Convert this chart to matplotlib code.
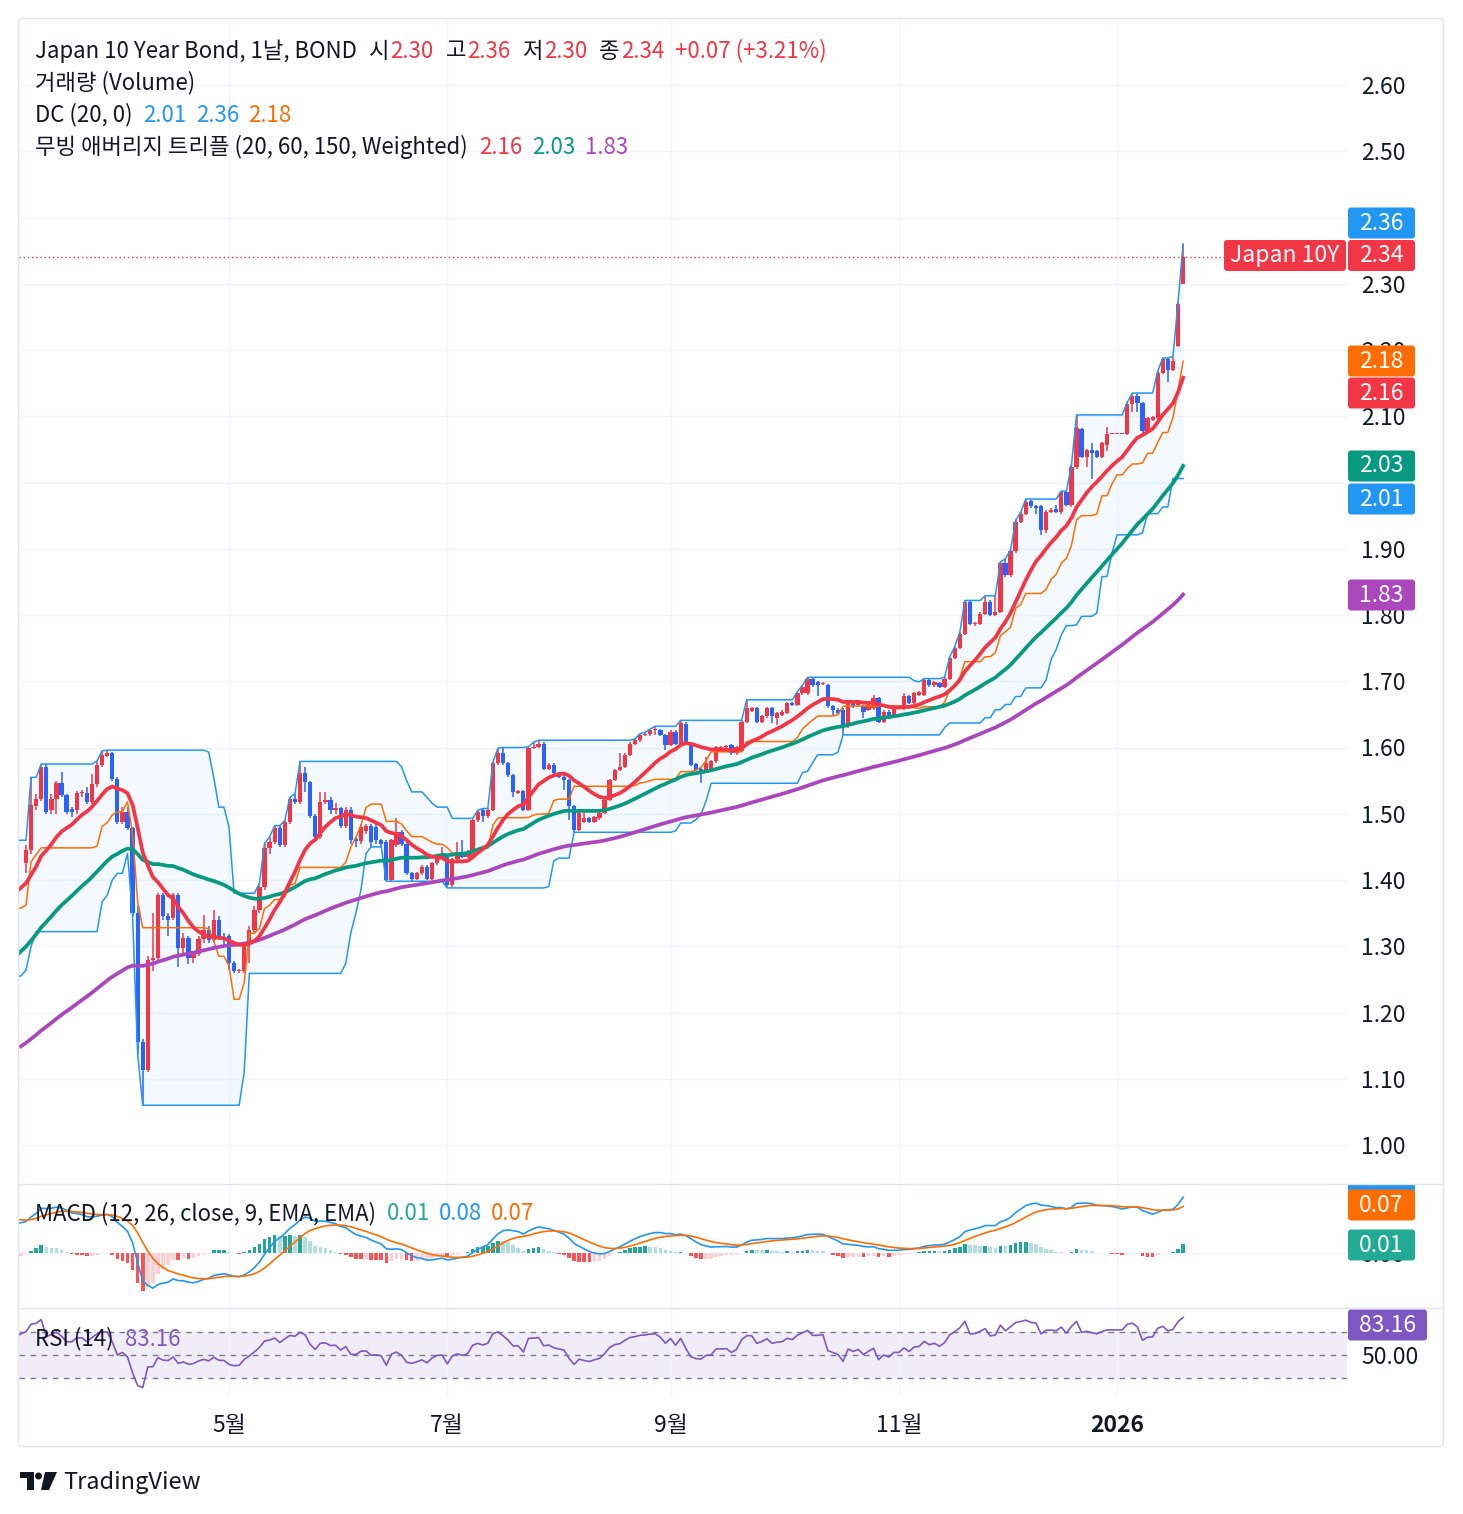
import numpy as np
import pandas as pd
import matplotlib
matplotlib.use("Agg")
from matplotlib import pyplot as plt, patches

plt.rcParams['font.family'] = ['Noto Sans CJK KR', 'DejaVu Sans']

# 일봉 2025-03-06 ~ 2026-01-20 (Japan 10Y 수익률, %)
open_ = [
    1.425, 1.445, 1.511, 1.523, 1.571, 1.505, 1.523, 1.546, 1.528, 1.507,
    1.505, 1.531, 1.532, 1.517, 1.545, 1.573, 1.587, 1.591, 1.553, 1.488,
    1.503, 1.478, 1.350, 1.156, 1.113, 1.279, 1.282, 1.377, 1.346, 1.342,
    1.377, 1.297, 1.312, 1.282, 1.289, 1.311, 1.325, 1.310, 1.340, 1.312,
    1.315, 1.274, 1.262, 1.262, 1.302, 1.325, 1.355, 1.390, 1.448, 1.458,
    1.478, 1.453, 1.488, 1.522, 1.518, 1.561, 1.548, 1.496, 1.465, 1.518,
    1.521, 1.506, 1.508, 1.481, 1.506, 1.462, 1.459, 1.474, 1.481, 1.480,
    1.460, 1.458, 1.400, 1.453, 1.473, 1.455, 1.410, 1.402, 1.410, 1.420,
    1.402, 1.425, 1.436, 1.435, 1.392, 1.431, 1.443, 1.435, 1.435, 1.490,
    1.506, 1.496, 1.506, 1.576, 1.591, 1.576, 1.558, 1.532, 1.534, 1.506,
    1.599, 1.601, 1.606, 1.568, 1.574, 1.561, 1.556, 1.551, 1.511, 1.476,
    1.488, 1.493, 1.488, 1.493, 1.501, 1.521, 1.551, 1.566, 1.571, 1.589,
    1.606, 1.611, 1.619, 1.620, 1.626, 1.626, 1.619, 1.604, 1.624, 1.606,
    1.636, 1.606, 1.575, 1.567, 1.564, 1.566, 1.579, 1.600, 1.601, 1.604,
    1.591, 1.595, 1.639, 1.655, 1.659, 1.639, 1.647, 1.659, 1.644, 1.649,
    1.652, 1.667, 1.664, 1.682, 1.682, 1.704, 1.699, 1.696, 1.694, 1.662,
    1.657, 1.657, 1.632, 1.669, 1.664, 1.662, 1.657, 1.659, 1.674, 1.639,
    1.654, 1.647, 1.660, 1.659, 1.677, 1.667, 1.679, 1.679, 1.702, 1.694,
    1.697, 1.692, 1.704, 1.735, 1.750, 1.772, 1.820, 1.786, 1.787, 1.802,
    1.820, 1.800, 1.805, 1.878, 1.860, 1.896, 1.941, 1.953, 1.972, 1.964,
    1.964, 1.928, 1.956, 1.960, 1.956, 1.985, 1.966, 2.024, 2.080, 2.039,
    2.049, 2.047, 2.039, 2.057, 2.073, 2.073, 2.073, 2.073, 2.119, 2.131,
    2.120, 2.077, 2.095, 2.097, 2.166, 2.186, 2.170, 2.206, 2.300,
]
high = [
    1.453, 1.555, 1.530, 1.575, 1.575, 1.530, 1.550, 1.563, 1.530, 1.510,
    1.535, 1.536, 1.540, 1.560, 1.580, 1.595, 1.596, 1.593, 1.555, 1.510,
    1.510, 1.480, 1.360, 1.160, 1.285, 1.350, 1.380, 1.380, 1.350, 1.380,
    1.380, 1.320, 1.315, 1.290, 1.315, 1.347, 1.330, 1.355, 1.345, 1.320,
    1.318, 1.278, 1.265, 1.305, 1.330, 1.360, 1.395, 1.455, 1.465, 1.482,
    1.482, 1.490, 1.525, 1.530, 1.579, 1.571, 1.550, 1.500, 1.533, 1.533,
    1.525, 1.516, 1.510, 1.510, 1.510, 1.465, 1.485, 1.485, 1.485, 1.485,
    1.462, 1.460, 1.462, 1.493, 1.476, 1.457, 1.412, 1.412, 1.422, 1.422,
    1.427, 1.440, 1.450, 1.437, 1.433, 1.458, 1.460, 1.446, 1.492, 1.505,
    1.508, 1.508, 1.578, 1.599, 1.600, 1.578, 1.560, 1.536, 1.536, 1.601,
    1.608, 1.611, 1.608, 1.576, 1.576, 1.563, 1.558, 1.553, 1.513, 1.503,
    1.503, 1.495, 1.497, 1.503, 1.523, 1.553, 1.568, 1.592, 1.591, 1.608,
    1.613, 1.621, 1.623, 1.628, 1.632, 1.628, 1.621, 1.626, 1.626, 1.641,
    1.638, 1.608, 1.577, 1.569, 1.586, 1.581, 1.603, 1.603, 1.604, 1.606,
    1.603, 1.641, 1.672, 1.661, 1.661, 1.649, 1.661, 1.661, 1.654, 1.656,
    1.669, 1.669, 1.684, 1.694, 1.706, 1.706, 1.701, 1.699, 1.696, 1.664,
    1.659, 1.659, 1.671, 1.671, 1.671, 1.664, 1.666, 1.679, 1.676, 1.656,
    1.656, 1.664, 1.664, 1.682, 1.679, 1.684, 1.686, 1.704, 1.704, 1.701,
    1.699, 1.706, 1.737, 1.752, 1.774, 1.822, 1.822, 1.790, 1.804, 1.829,
    1.822, 1.829, 1.880, 1.885, 1.898, 1.943, 1.955, 1.975, 1.974, 1.966,
    1.966, 1.958, 1.962, 1.966, 1.987, 1.987, 2.026, 2.102, 2.082, 2.051,
    2.059, 2.049, 2.061, 2.084, 2.073, 2.073, 2.073, 2.121, 2.135, 2.133,
    2.122, 2.099, 2.101, 2.168, 2.188, 2.188, 2.190, 2.272, 2.360,
]
low = [
    1.410, 1.440, 1.505, 1.520, 1.500, 1.500, 1.500, 1.525, 1.500, 1.495,
    1.500, 1.526, 1.515, 1.515, 1.540, 1.570, 1.585, 1.550, 1.485, 1.485,
    1.475, 1.345, 1.138, 1.060, 1.110, 1.262, 1.280, 1.340, 1.315, 1.340,
    1.269, 1.290, 1.273, 1.275, 1.285, 1.305, 1.305, 1.305, 1.310, 1.300,
    1.264, 1.259, 1.260, 1.259, 1.274, 1.320, 1.350, 1.385, 1.440, 1.455,
    1.450, 1.450, 1.485, 1.515, 1.515, 1.533, 1.494, 1.458, 1.462, 1.515,
    1.500, 1.500, 1.478, 1.478, 1.455, 1.450, 1.455, 1.470, 1.450, 1.455,
    1.450, 1.398, 1.398, 1.450, 1.452, 1.408, 1.398, 1.400, 1.408, 1.400,
    1.400, 1.423, 1.434, 1.388, 1.390, 1.429, 1.433, 1.433, 1.433, 1.488,
    1.488, 1.494, 1.504, 1.574, 1.574, 1.556, 1.526, 1.530, 1.504, 1.504,
    1.597, 1.599, 1.566, 1.566, 1.559, 1.554, 1.536, 1.490, 1.472, 1.474,
    1.486, 1.486, 1.486, 1.491, 1.499, 1.519, 1.549, 1.564, 1.569, 1.587,
    1.604, 1.609, 1.617, 1.618, 1.619, 1.617, 1.596, 1.602, 1.604, 1.604,
    1.604, 1.572, 1.564, 1.546, 1.562, 1.564, 1.577, 1.598, 1.599, 1.589,
    1.589, 1.593, 1.637, 1.653, 1.637, 1.637, 1.645, 1.637, 1.634, 1.647,
    1.650, 1.662, 1.662, 1.680, 1.680, 1.692, 1.677, 1.694, 1.660, 1.649,
    1.650, 1.619, 1.630, 1.660, 1.662, 1.644, 1.655, 1.657, 1.637, 1.637,
    1.645, 1.645, 1.658, 1.657, 1.665, 1.665, 1.677, 1.677, 1.692, 1.692,
    1.690, 1.690, 1.702, 1.733, 1.748, 1.770, 1.785, 1.784, 1.785, 1.800,
    1.798, 1.798, 1.803, 1.858, 1.858, 1.894, 1.939, 1.951, 1.962, 1.953,
    1.921, 1.924, 1.954, 1.954, 1.953, 1.964, 1.963, 2.021, 2.037, 2.024,
    2.006, 2.037, 2.037, 2.047, 2.073, 2.073, 2.073, 2.071, 2.107, 2.107,
    2.075, 2.075, 2.093, 2.095, 2.164, 2.152, 2.168, 2.204, 2.300,
]
close = [
    1.445, 1.513, 1.523, 1.571, 1.503, 1.523, 1.546, 1.528, 1.502, 1.502,
    1.532, 1.532, 1.517, 1.545, 1.574, 1.589, 1.591, 1.553, 1.488, 1.503,
    1.478, 1.350, 1.156, 1.113, 1.279, 1.282, 1.377, 1.345, 1.340, 1.377,
    1.297, 1.312, 1.282, 1.289, 1.311, 1.325, 1.310, 1.340, 1.312, 1.310,
    1.274, 1.262, 1.264, 1.302, 1.325, 1.355, 1.390, 1.448, 1.458, 1.478,
    1.453, 1.488, 1.522, 1.518, 1.561, 1.548, 1.496, 1.465, 1.518, 1.521,
    1.506, 1.508, 1.481, 1.506, 1.460, 1.459, 1.480, 1.481, 1.458, 1.460,
    1.455, 1.400, 1.460, 1.473, 1.455, 1.410, 1.402, 1.410, 1.420, 1.402,
    1.425, 1.438, 1.440, 1.392, 1.431, 1.443, 1.435, 1.443, 1.490, 1.503,
    1.496, 1.506, 1.576, 1.591, 1.576, 1.558, 1.533, 1.534, 1.506, 1.599,
    1.601, 1.606, 1.568, 1.574, 1.561, 1.556, 1.551, 1.511, 1.476, 1.501,
    1.493, 1.488, 1.495, 1.501, 1.521, 1.551, 1.566, 1.571, 1.589, 1.606,
    1.611, 1.619, 1.621, 1.626, 1.627, 1.619, 1.604, 1.624, 1.606, 1.637,
    1.606, 1.574, 1.566, 1.564, 1.577, 1.579, 1.601, 1.601, 1.602, 1.591,
    1.601, 1.639, 1.659, 1.659, 1.639, 1.647, 1.659, 1.647, 1.652, 1.654,
    1.667, 1.664, 1.682, 1.692, 1.704, 1.694, 1.694, 1.697, 1.662, 1.657,
    1.652, 1.632, 1.669, 1.662, 1.669, 1.654, 1.664, 1.674, 1.639, 1.654,
    1.647, 1.662, 1.662, 1.677, 1.667, 1.682, 1.684, 1.702, 1.694, 1.699,
    1.692, 1.704, 1.735, 1.750, 1.772, 1.820, 1.787, 1.788, 1.802, 1.820,
    1.800, 1.805, 1.878, 1.860, 1.896, 1.941, 1.953, 1.971, 1.964, 1.962,
    1.928, 1.956, 1.958, 1.956, 1.985, 1.966, 2.024, 2.082, 2.039, 2.049,
    2.044, 2.039, 2.059, 2.073, 2.073, 2.073, 2.073, 2.119, 2.131, 2.120,
    2.077, 2.097, 2.099, 2.166, 2.186, 2.170, 2.183, 2.270, 2.340,
]

# 화면 이전 구간 (이동평균/MACD/RSI 계산용)
pre_close = [
    0.87, 0.85, 0.83, 0.86, 0.88, 0.88, 0.89, 0.90, 0.89, 0.88, 0.89, 0.90, 0.90, 0.89, 0.89, 0.90, 0.91,
    0.91, 0.90, 0.88, 0.87, 0.89, 0.88, 0.86, 0.85, 0.84, 0.84, 0.84, 0.84, 0.85, 0.86, 0.85, 0.83, 0.82,
    0.80, 0.81, 0.84, 0.86,
    0.86, 0.87, 0.85, 0.88, 0.91, 0.93, 0.93, 0.94, 0.95, 0.96, 0.96, 0.95, 0.96, 0.97, 0.97, 0.95, 0.96,
    0.97, 0.95, 0.95, 0.97, 0.94, 0.95,
    0.96, 0.96, 0.98, 1.00, 1.00, 1.00, 1.01, 1.00, 1.03, 1.06, 1.07, 1.08, 1.07, 1.07, 1.08, 1.09, 1.09,
    1.07, 1.07, 1.05, 1.05,
    1.06, 1.08, 1.08, 1.05, 1.05, 1.04, 1.05, 1.05, 1.06, 1.07, 1.05, 1.05, 1.05, 1.06, 1.06, 1.08, 1.09,
    1.09, 1.10, 1.11, 1.10, 1.10,
    1.09, 1.11, 1.12, 1.14, 1.15, 1.16, 1.18, 1.19, 1.20, 1.23, 1.25, 1.24, 1.22, 1.22, 1.20, 1.20, 1.21,
    1.22, 1.22, 1.21, 1.22, 1.21, 1.22,
    1.23, 1.24, 1.25,
    1.26, 1.27, 1.30, 1.32, 1.34, 1.36, 1.38, 1.42, 1.44, 1.45, 1.43, 1.40, 1.38, 1.37, 1.36, 1.33, 1.38,
    1.39, 1.41, 1.43,
]
pre_high = [1.27, 1.28, 1.31, 1.33, 1.35, 1.37, 1.39, 1.43, 1.45, 1.46,
            1.45, 1.43, 1.40, 1.39, 1.38, 1.36, 1.39, 1.40, 1.42, 1.44]
pre_low = [1.255, 1.264, 1.30, 1.325, 1.33, 1.345, 1.36, 1.375, 1.41, 1.43,
           1.42, 1.39, 1.37, 1.36, 1.345, 1.322, 1.367, 1.377, 1.40, 1.42]

start_date = '2025-03-06'
# 라벨 박스에 가려 보이지 않는 2.00, 2.40 은 제외
price_ticks = [1.0, 1.1, 1.2, 1.3, 1.4, 1.5, 1.6, 1.7, 1.8, 1.9, 2.1, 2.2, 2.3, 2.5, 2.6]
grid_levels = [1.0, 1.1, 1.2, 1.3, 1.4, 1.5, 1.6, 1.7, 1.8, 1.9, 2.0, 2.1, 2.2, 2.3, 2.4, 2.5, 2.6]

# 범례 값 (차트에 표시된 문자열)
ohlc_txt = ["2.30", "2.36", "2.30", "2.34"]
chg_txt = "+0.07 (+3.21%)"
dc_txt = ["2.01", "2.36", "2.18"]
ma_txt = ["2.16", "2.03", "1.83"]
macd_txt = ["0.01", "0.08", "0.07"]
rsi_txt = "83.16"

RED = '#F23645'
DOWN = '#2962FF'
DC_BLUE = '#2196F3'
ORANGE = '#FF6D00'
GREEN = '#089981'
PURPLE = '#AB47BC'
TEAL = '#22AB94'
RSI_C = '#7E57C2'
TXT = '#131722'
GRID = '#F0F3FA'
FS = 16
AX_FS = 16.5

W, H = 1463, 1514
fig = plt.figure(figsize=(W / 100, H / 100), dpi=100)
fig.patch.set_facecolor('white')


def px_axes(x0, y0, x1, y1):
    return fig.add_axes([x0 / W, 1 - y1 / H, (x1 - x0) / W, (y1 - y0) / H])


ax_p = px_axes(19, 19, 1347, 1183)
ax_m = px_axes(19, 1184, 1347, 1307)
ax_r = px_axes(19, 1308, 1347, 1396)

n = len(close)
x = np.arange(n)
o, h, l, c = (np.array(v) for v in (open_, high, low, close))
close_all = np.array(pre_close + close)
x_all = np.arange(-len(pre_close), n)


def wma(values, length):
    w = np.arange(1, length + 1)
    out = np.full(len(values), np.nan)
    for i in range(length - 1, len(values)):
        out[i] = np.dot(values[i - length + 1:i + 1], w) / w.sum()
    return out


ma20, ma60, ma150 = wma(close_all, 20), wma(close_all, 60), wma(close_all, 150)

hi_all = pd.Series(pre_high + high)
lo_all = pd.Series(pre_low + low)
dc_up = hi_all.rolling(20, min_periods=1).max().to_numpy()
dc_lo = lo_all.rolling(20, min_periods=1).min().to_numpy()
dc_mid = (dc_up + dc_lo) / 2
x_dc = np.arange(-len(pre_high), n)
keep = x_dc >= -2

s = pd.Series(close_all)
macd = s.ewm(span=12, adjust=False).mean() - s.ewm(span=26, adjust=False).mean()
signal = macd.ewm(span=9, adjust=False).mean()
hist = (macd - signal).to_numpy()
d = s.diff()
gain = d.clip(lower=0).ewm(alpha=1 / 14, adjust=False).mean()
loss = (-d.clip(upper=0)).ewm(alpha=1 / 14, adjust=False).mean()
rsi = (100 - 100 / (1 + gain / loss)).to_numpy()

# 가격 패널
for lv in grid_levels:
    ax_p.axhline(lv, color=GRID, lw=1, zorder=0)
ax_p.fill_between(x_dc[keep], dc_lo[keep], dc_up[keep], color=DC_BLUE, alpha=0.05, lw=0, zorder=1)
up = c >= o
col = np.where(up, RED, DOWN)
ax_p.vlines(x, l, h, colors=col, lw=1.1, zorder=3)
ax_p.bar(x, np.maximum(np.abs(c - o), 0.0015), bottom=np.minimum(o, c), width=0.84,
         color=col, lw=0, zorder=3)
ax_p.plot(x_dc[keep], dc_up[keep], color=DC_BLUE, lw=1.1, zorder=4)
ax_p.plot(x_dc[keep], dc_lo[keep], color=DC_BLUE, lw=1.1, zorder=4)
ax_p.plot(x_dc[keep], dc_mid[keep], color=ORANGE, lw=1.1, zorder=4)
ax_p.plot(x_all, ma150, color=PURPLE, lw=2.7, zorder=5)
ax_p.plot(x_all, ma60, color=GREEN, lw=2.7, zorder=5)
ax_p.plot(x_all, ma20, color=RED, lw=2.7, zorder=5)
ax_p.axhline(c[-1], xmax=(1224 - 19) / 1328, color=RED, lw=1, ls=(0, (1, 2)), zorder=6)

# MACD 패널
prev = np.concatenate([[hist[0]], hist[:-1]])
hcol = np.where(hist >= 0, np.where(hist > prev, '#26A69A', '#B2DFDB'),
                np.where(hist < prev, '#FF5252', '#FFCDD2'))
ax_m.bar(x_all, hist, width=0.7, color=hcol, lw=0, zorder=2)
ax_m.plot(x_all, macd, color=DC_BLUE, lw=1.2, zorder=3)
ax_m.plot(x_all, signal, color=ORANGE, lw=1.2, zorder=3)

# RSI 패널
ax_r.axhspan(30, 70, color=RSI_C, alpha=0.1, lw=0)
for lv in (70, 50, 30):
    ax_r.axhline(lv, color='#787B86', lw=1, ls=(0, (4, 4)))
ax_r.plot(x_all, rsi, color=RSI_C, lw=1.2, zorder=3)

# 축
dates = pd.bdate_range(start_date, periods=n)
tick_pos, tick_lab = [], []
for i in range(1, n):
    if dates[i].month != dates[i - 1].month:
        if dates[i].year != dates[i - 1].year:
            tick_pos.append(i)
            tick_lab.append(str(dates[i].year))
        elif dates[i].month in (5, 7, 9, 11):
            tick_pos.append(i)
            tick_lab.append(f"{dates[i].month}월")

x_left, x_right = (19 - 26) / 5.075, (1347 - 26) / 5.075
for ax in (ax_p, ax_m, ax_r):
    ax.set_xlim(x_left, x_right)
    ax.set_xticks(tick_pos)
    ax.grid(axis='x', color=GRID, lw=1, zorder=0)
    for sp in ax.spines.values():
        sp.set_visible(False)
    ax.yaxis.tick_right()
    ax.tick_params(axis='both', length=0, labelsize=AX_FS, labelcolor=TXT, pad=10)
    ax.set_facecolor('none')

ax_p.set_ylim(2.60 - (1183 - 85) / 662.5, 2.60 + (85 - 19) / 662.5)
ax_p.set_yticks(price_ticks)
ax_p.set_yticklabels([f"{v:.2f}" for v in price_ticks])
ax_p.tick_params(axis='x', labelbottom=False)

ax_m.set_ylim(-(1307 - 1253) / 714, (1253 - 1184) / 714)
ax_m.set_yticks([0])
ax_m.set_yticklabels(["0.00"])
ax_m.grid(axis='y', color=GRID, lw=1, zorder=0)
ax_m.tick_params(axis='x', labelbottom=False)

ax_r.set_ylim(30 - (1396 - 1378) / 1.15, 70 + (1332 - 1308) / 1.15)
ax_r.set_yticks([50])
ax_r.set_yticklabels(["50.00"])
ax_r.tick_params(axis='x', pad=13)
ax_r.set_xticklabels(tick_lab)
for t in ax_r.get_xticklabels():
    if not t.get_text().endswith('월'):
        t.set_fontweight('bold')

# 오버레이 (범례, 가격 라벨, 테두리)
ov = fig.add_axes([0, 0, 1, 1], zorder=10)
ov.set_xlim(0, W)
ov.set_ylim(H, 0)
ov.axis('off')
renderer = fig.canvas.get_renderer()


def segments(x0, y, parts, size=FS):
    for txt, color, gap in parts:
        t = ov.text(x0, y, txt, color=color, fontsize=size, va='center', ha='left')
        x0 += t.get_window_extent(renderer).width + gap


segments(35, 51, [("Japan 10 Year Bond, 1날, BOND", TXT, 12),
                  ("시", TXT, 1), (ohlc_txt[0], RED, 12),
                  ("고", TXT, 1), (ohlc_txt[1], RED, 12),
                  ("저", TXT, 1), (ohlc_txt[2], RED, 12),
                  ("종", TXT, 1), (ohlc_txt[3], RED, 11),
                  (chg_txt, RED, 0)])
segments(35, 83, [("거래량 (Volume)", TXT, 0)])
segments(35, 115, [("DC (20, 0)", TXT, 11), (dc_txt[0], DC_BLUE, 9),
                   (dc_txt[1], DC_BLUE, 9), (dc_txt[2], ORANGE, 0)])
segments(35, 147, [("무빙 애버리지 트리플 (20, 60, 150, Weighted)", TXT, 11),
                   (ma_txt[0], RED, 10), (ma_txt[1], GREEN, 10), (ma_txt[2], PURPLE, 0)])
segments(35, 1214, [("MACD (12, 26, close, 9, EMA, EMA)", TXT, 11), (macd_txt[0], TEAL, 9),
                    (macd_txt[1], DC_BLUE, 9), (macd_txt[2], ORANGE, 0)])
segments(35, 1339, [("RSI (14)", TXT, 11), (rsi_txt, RSI_C, 0)])


def tag(txt, color, yc, x0=1348, x1=1415, hgt=31):
    ov.add_patch(patches.FancyBboxPatch((x0, yc - hgt / 2), x1 - x0, hgt,
                                        boxstyle="round,pad=0,rounding_size=3",
                                        fc=color, ec='none'))
    if txt:
        ov.text((x0 + x1) / 2, yc, txt, color='white', fontsize=AX_FS, ha='center', va='center')


tag("Japan 10Y", RED, 255.5, x0=1224, x1=1346)
price_tags = [(dc_txt[1], DC_BLUE, 223), (ohlc_txt[3], RED, 255.5), (dc_txt[2], ORANGE, 361),
              (ma_txt[0], RED, 393), (ma_txt[1], GREEN, 466), (dc_txt[0], DC_BLUE, 499),
              (ma_txt[2], PURPLE, 595)]
for txt, color, yc in price_tags:
    tag(txt, color, yc)
ov.add_patch(patches.Rectangle((1348, 1184), 67, 7, fc=DC_BLUE, ec='none'))
tag(macd_txt[2], ORANGE, 1205)
tag(macd_txt[0], TEAL, 1245)
tag(rsi_txt, RSI_C, 1325, x1=1427)

ov.add_patch(patches.FancyBboxPatch((18.5, 18.5), 1425, 1428, boxstyle="round,pad=0,rounding_size=4",
                                    fc='none', ec='#E0E3EB', lw=1))
for yy in (1183.5, 1307.5):
    ov.plot([19, 1443], [yy, yy], color='#E0E3EB', lw=1)

# 로고
ov.add_patch(patches.Rectangle((20, 1472), 14, 6, fc=TXT, ec='none'))
ov.add_patch(patches.Rectangle((27, 1472), 7, 18, fc=TXT, ec='none'))
ov.add_patch(patches.Circle((38.5, 1476), 3.5, fc=TXT, ec='none'))
ov.add_patch(patches.Polygon([(45, 1472), (57, 1472), (49, 1490), (41, 1490)], fc=TXT, ec='none'))
ov.text(63, 1483, "TradingView", color=TXT, fontsize=17, va='center', ha='left')

fig.savefig('out.png', dpi=100, facecolor='white')
